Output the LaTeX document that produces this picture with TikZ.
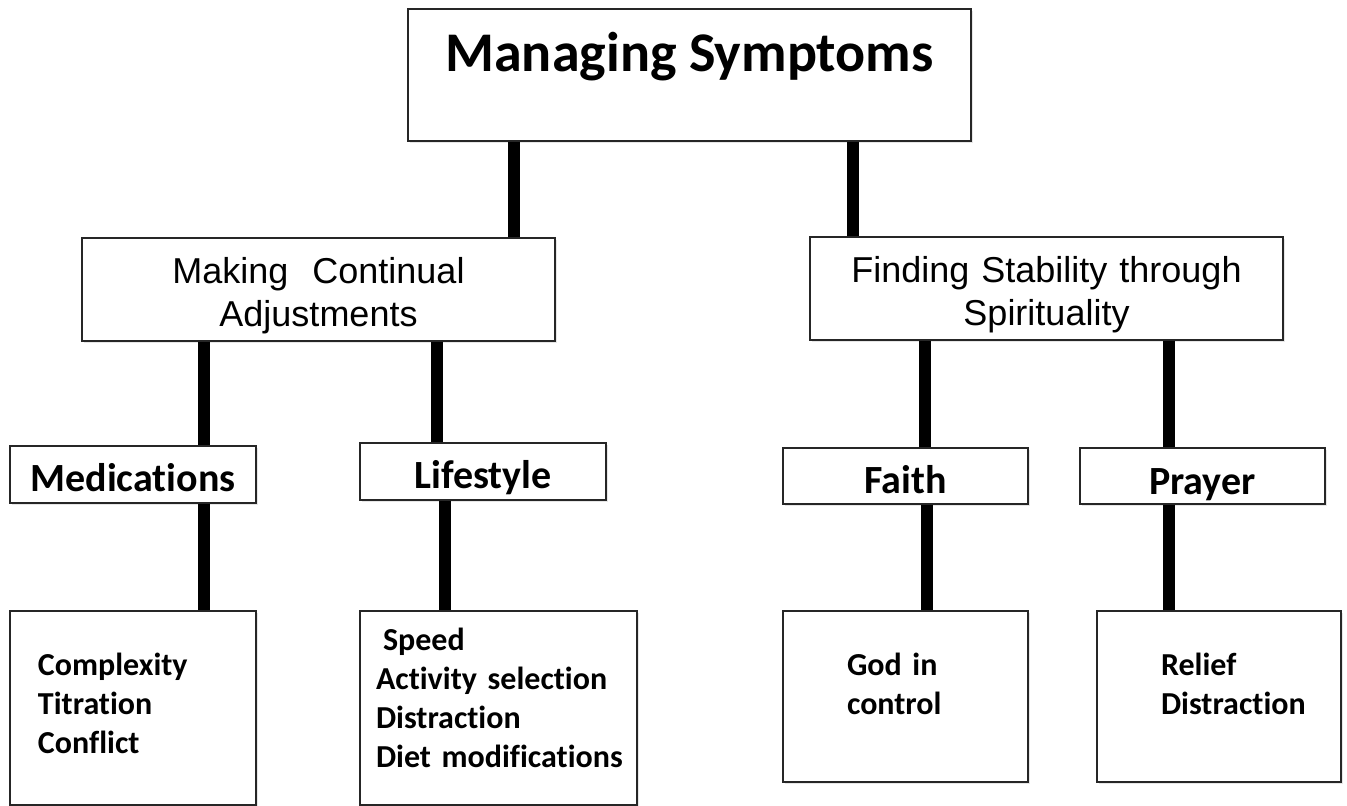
\documentclass[tikz,border=0pt]{standalone}
\usepackage{fontspec}
\setmainfont{Liberation Sans}
\newfontfamily\carlito{Carlito}[Ligatures={NoCommon}]
\usetikzlibrary{shadows}

\newcommand{\itemlist}[2]{\begin{tabular}[t]{@{\hspace{#1pt}}l@{}}#2\end{tabular}}

\tikzset{
  box/.style={draw=black!85, line width=1.5pt, fill=white, inner sep=0pt,
    drop shadow={opacity=0.2, shadow xshift=1.5pt, shadow yshift=-1.5pt}},
  link/.style={line width=12pt},
  head/.style={box, font=\carlito\bfseries\fontsize{56}{62}\selectfont},
  sub/.style={box, font=\fontsize{36}{43}\selectfont, align=center},
  leaf/.style={box, font=\carlito\bfseries\fontsize{40}{48}\selectfont},
  detail/.style={box, font=\carlito\bfseries\fontsize{32}{39}\selectfont, align=left}
}

\begin{document}
\begin{tikzpicture}[x=1pt, y=-1pt]
  \useasboundingbox (0,0) rectangle (1347,806);

  % Top
  \node[head, minimum width=563, text height=62, text depth=70] (top) at (689.5,75) {Managing Symptoms};

  % Themes
  \node[sub, text width=473, text height=45, text depth=58] (adjust) at (318.5,289.5) {Making\ \ Continual\\Adjustments};
  \node[sub, text width=473, text height=45, text depth=58] (spirit) at (1046.5,288.5) {Finding Stability through\\Spirituality};

  % Sub-themes
  \node[leaf, minimum width=246, text height=45, text depth=12] (meds) at (133,474.5) {Medications};
  \node[leaf, minimum width=246, text height=45, text depth=12] (life) at (483,471.5) {Lifestyle};
  \node[leaf, minimum width=245, text height=45, text depth=11] (faith) at (905.5,476) {Faith};
  \node[leaf, minimum width=245, text height=46, text depth=10] (prayer) at (1202.5,476) {Prayer};

  % Details
  \node[detail, text width=246, text height=64, text depth=130] (medsdet) at (133,708)
    {\itemlist{28}{Complexity\\Titration\\Conflict}};
  \node[detail, text width=277, text height=39, text depth=155] (lifedet) at (498.5,708)
    {\itemlist{16}{\hspace{7pt}Speed\\Activity selection\\Distraction\\Diet modifications}};
  \node[detail, text width=245, text height=64, text depth=107] (faithdet) at (905.5,696.5)
    {\itemlist{64}{God in\\control}};
  \node[detail, text width=244, text height=64, text depth=107] (prayerdet) at (1219,696.5)
    {\itemlist{64}{Relief\\Distraction}};

  % Links
  \draw[link] (top.south -| 514,0) -- (adjust.north -| 514,0);
  \draw[link] (top.south -| 853,0) -- (spirit.north -| 853,0);
  \draw[link] (adjust.south -| 204,0) -- (meds.north -| 204,0);
  \draw[link] (adjust.south -| 437,0) -- (life.north -| 437,0);
  \draw[link] (spirit.south -| 925,0) -- (faith.north -| 925,0);
  \draw[link] (spirit.south -| 1169,0) -- (prayer.north -| 1169,0);
  \draw[link] (meds.south -| 204,0) -- (medsdet.north -| 204,0);
  \draw[link] (life.south -| 445,0) -- (lifedet.north -| 445,0);
  \draw[link] (faith.south -| 927,0) -- (faithdet.north -| 927,0);
  \draw[link] (prayer.south -| 1169,0) -- (prayerdet.north -| 1169,0);

\end{tikzpicture}
\end{document}
